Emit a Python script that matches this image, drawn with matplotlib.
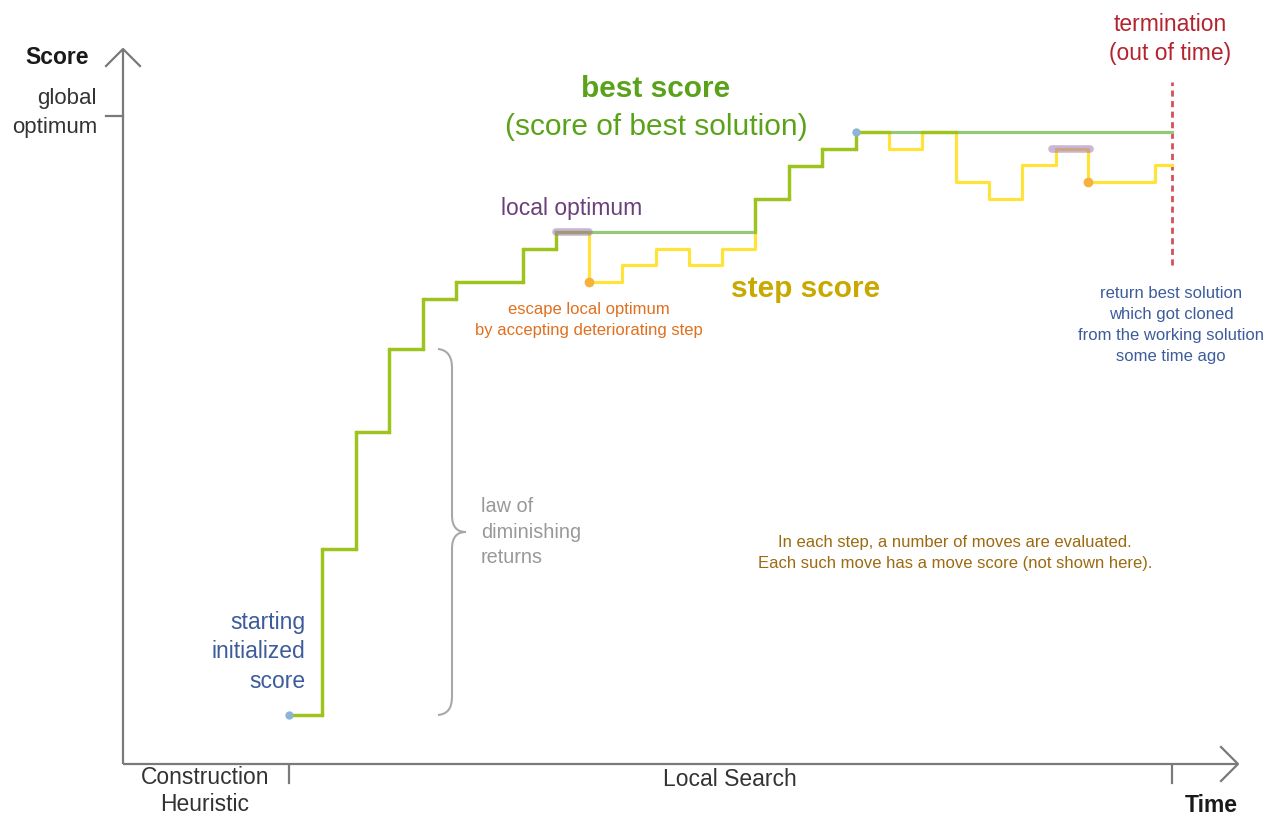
import numpy as np
import matplotlib
matplotlib.use("Agg")
import matplotlib.pyplot as plt
from matplotlib.path import Path
from matplotlib.patches import PathPatch

plt.rcParams['font.family'] = ['Liberation Sans', 'DejaVu Sans']

# ---- data (time, score units) ----
step_time = [166, 199, 233, 266, 300, 333, 400, 433, 466, 499, 533, 566, 599,
             632, 666, 699, 733, 766, 799, 833, 866, 899, 933, 965, 1032, 1049]
step_score = [50, 216, 333, 416, 466, 483, 516, 533, 483, 500, 516, 500, 516,
              566, 599, 616, 633, 616, 633, 583, 566, 600, 616, 583, 600, 600]
best_score = np.maximum.accumulate(np.array(step_score, dtype=float))

ch_end_time = 166
termination_time = 1049
global_optimum = 649
local_optima = [(433, 466, 533), (929, 967, 616)]   # (start, end, score)
start_points = [(166, 50), (733, 633)]               # blue dots
escape_points = [(466, 483), (965, 583)]             # orange dots

# olive segments: where the step score coincides with the best score
ox, oy = [], []
for i in range(len(step_time) - 1):
    if step_score[i] == best_score[i]:
        ox += [step_time[i], step_time[i + 1], np.nan]
        oy += [best_score[i], best_score[i], np.nan]
    if i > 0 and best_score[i] > best_score[i - 1]:
        ox += [step_time[i], step_time[i], np.nan]
        oy += [best_score[i - 1], best_score[i], np.nan]

# ---- figure ----
W, H = 1274, 816
fig = plt.figure(figsize=(W / 100, H / 100), dpi=100)
ax = fig.add_axes([0, 0, 1, 1])
X0, Y0 = 123, 765          # pixel position of the axes origin
ax.set_xlim(-X0, W - X0)
ax.set_ylim(Y0 - H, Y0)
ax.axis('off')


def P(x, y):
    """pixel position -> data coords (for layout only)"""
    return x - X0, Y0 - y


axis_c = '#7a7a7a'
# axes with open arrow heads
ax.plot(*zip(P(123, 764), P(123, 49)), color=axis_c, lw=1.6, solid_capstyle='butt')
ax.plot(*zip(P(106, 66), P(123, 49), P(140, 66)), color=axis_c, lw=1.6)
ax.plot(*zip(P(123, 764), P(1238, 764)), color=axis_c, lw=1.6, solid_capstyle='butt')
ax.plot(*zip(P(1221, 747), P(1238, 764), P(1221, 781)), color=axis_c, lw=1.6)
# ticks
ax.plot([ch_end_time, ch_end_time], [0, -18], color=axis_c, lw=1.6)
ax.plot([termination_time, termination_time], [0, -18], color=axis_c, lw=1.6)
ax.plot([-17, 0], [global_optimum, global_optimum], color=axis_c, lw=1.6)

# termination dashed line
ax.plot([termination_time, termination_time], [500, 683], color='#d4505a',
        lw=2.0, dashes=(2.2, 1.6))

# step score (yellow), best score (light green), overlap (olive green)
ax.plot(step_time, step_score, drawstyle='steps-post', color='#ffe23a', lw=2.3, zorder=3)
ax.plot(step_time, best_score, drawstyle='steps-post', color='#96c878', lw=2.3, zorder=4)
ax.plot(ox, oy, color='#9cc31e', lw=2.3, zorder=5, solid_capstyle='projecting')

# local optimum highlights
for t0, t1, s in local_optima:
    ax.plot([t0, t1], [s, s], color='#a07ab8', alpha=0.55, lw=5.5,
            solid_capstyle='round', zorder=6)

# dots
for t, s in start_points:
    ax.plot(t, s, 'o', color='#8db3d6', ms=6, mec='none', zorder=7)
for t, s in escape_points:
    ax.plot(t, s, 'o', color='#f6b13a', ms=7, mec='none', zorder=7)

# curly brace
verts = [P(438, 349), P(448, 350), P(452, 357), P(452, 368),
         P(452, 515),
         P(452, 527), P(457, 532), P(466, 532),
         P(457, 532), P(452, 537), P(452, 549),
         P(452, 696),
         P(452, 708), P(448, 714), P(438, 715)]
codes = [Path.MOVETO, Path.CURVE4, Path.CURVE4, Path.CURVE4,
         Path.LINETO,
         Path.CURVE4, Path.CURVE4, Path.CURVE4,
         Path.CURVE4, Path.CURVE4, Path.CURVE4,
         Path.LINETO,
         Path.CURVE4, Path.CURVE4, Path.CURVE4]
ax.add_patch(PathPatch(Path(verts, codes), fc='none', ec='#a8a8a8', lw=1.5))

# ---- texts ----
dark = '#333333'
blue = '#3d5c9c'
ax.text(*P(89, 57), 'Score', ha='right', va='center', fontsize=16.5,
        fontweight='bold', color='#1a1a1a')
ax.text(*P(97, 113), 'global\noptimum', ha='right', va='center', fontsize=16,
        color=dark, linespacing=1.45)
ax.text(*P(656, 89), 'best score', ha='center', va='center', fontsize=21.5,
        fontweight='bold', color='#5ba21b')
ax.text(*P(656, 127), '(score of best solution)', ha='center', va='center',
        fontsize=21.5, color='#5ba21b')
ax.text(*P(572, 209), 'local optimum', ha='center', va='center', fontsize=16.5,
        color='#6b3f7a')
ax.text(*P(806, 289), 'step score', ha='center', va='center', fontsize=21.5,
        fontweight='bold', color='#c9a800')
ax.text(*P(589, 320), 'escape local optimum\nby accepting deteriorating step',
        ha='center', va='center', fontsize=12, color='#e0701f', linespacing=1.5)
ax.text(*P(481, 532), 'law of\ndiminishing\nreturns', ha='left', va='center',
        fontsize=14.3, color='#999999', linespacing=1.45)
ax.text(*P(305, 652), 'starting\ninitialized\nscore', ha='right', va='center',
        fontsize=16.5, color=blue, linespacing=1.35)
ax.text(*P(1170, 39), 'termination\n(out of time)', ha='center', va='center',
        fontsize=16.5, color='#b5232e', linespacing=1.35)
ax.text(*P(1171, 325), 'return best solution\nwhich got cloned\nfrom the working solution\nsome time ago',
        ha='center', va='center', fontsize=12, color=blue, linespacing=1.5)
ax.text(*P(955, 553), 'In each step, a number of moves are evaluated.\n'
        'Each such move has a move score (not shown here).',
        ha='center', va='center', fontsize=12, color='#9c6a10', linespacing=1.5)
ax.text(*P(205, 791), 'Construction\nHeuristic', ha='center', va='center',
        fontsize=16.5, color=dark, linespacing=1.25)
ax.text(*P(730, 779), 'Local Search', ha='center', va='center', fontsize=16.5,
        color=dark)
ax.text(*P(1211, 805), 'Time', ha='center', va='center', fontsize=16.5,
        fontweight='bold', color='#1a1a1a')

fig.savefig('out.png', dpi=100, facecolor='white')
